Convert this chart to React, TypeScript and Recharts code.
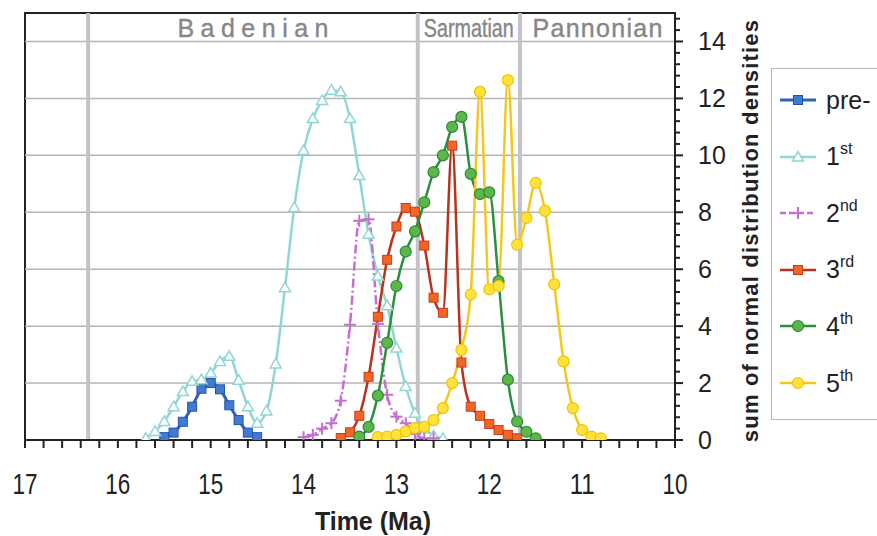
import React from "react"
import { LineChart, Line, XAxis, YAxis, ReferenceLine, ReferenceArea, Legend } from "recharts"

// time grid (Ma), 0.1 Ma steps
const times = [
  15.7, 15.6, 15.5, 15.4, 15.3, 15.2, 15.1, 15.0, 14.9, 14.8, 14.7, 14.6, 14.5, 14.4, 14.3, 14.2, 14.1,
  14.0, 13.9, 13.8, 13.7, 13.6, 13.5, 13.4, 13.3, 13.2, 13.1, 13.0, 12.9, 12.8, 12.7, 12.6, 12.5, 12.4,
  12.3, 12.2, 12.1, 12.0, 11.9, 11.8, 11.7, 11.6, 11.5, 11.4, 11.3, 11.2, 11.1, 11.0, 10.9, 10.8,
]

// each series starts at its own time on the grid above
const preStart = 15.5
const preValues = [0.1, 0.26, 0.64, 1.17, 1.8, 2.0, 1.78, 1.22, 0.7, 0.26, 0.1]
const firstStart = 15.7
const firstValues = [
  0.06, 0.3, 0.65, 1.17, 1.7, 2.06, 2.12, 2.35, 2.76, 2.94, 2.1, 1.17, 0.59, 1.02, 2.67, 5.35, 8.17,
  10.17, 11.29, 11.93, 12.29, 12.23, 11.29, 9.29, 7.23, 5.76, 4.72, 3.23, 1.88, 0.94, 0.4, 0.15, 0.05,
]
const secondStart = 14.0
const secondValues = [0.1, 0.18, 0.4, 0.59, 1.38, 4.05, 7.7, 7.75, 4.08, 1.59, 0.82, 0.59, 0.22, 0.06, 0.06]
const thirdStart = 13.6
const thirdValues = [
  0.07, 0.27, 0.85, 2.22, 4.33, 6.33, 7.5, 8.15, 8.02, 6.83, 5.0, 4.47, 10.34, 2.72, 1.17, 0.85, 0.56,
  0.35, 0.18, 0.06,
]
const fourthStart = 13.4
const fourthValues = [
  0.12, 0.46, 1.56, 3.41, 5.41, 6.62, 7.33, 8.35, 9.41, 10.0, 11.0, 11.35, 9.35, 8.64, 8.7, 5.58, 2.12,
  0.65, 0.29, 0.06,
]
const fifthStart = 13.2
const fifthValues = [
  0.1, 0.12, 0.18, 0.3, 0.42, 0.46, 0.7, 1.12, 2.0, 3.17, 5.11, 12.23, 5.29, 5.41, 12.64, 6.86, 7.8,
  9.03, 8.05, 5.47, 2.76, 1.12, 0.35, 0.12, 0.06,
]

const stageNames = ["Badenian", "Sarmatian", "Pannonian"]
const stageEdges = [16.32, 12.77, 11.67, 10]

const xMajorTicks = [17, 16, 15, 14, 13, 12, 11, 10]
const yMajorTicks = [0, 2, 4, 6, 8, 10, 12, 14]

const FONT = "'Liberation Sans', Arial, sans-serif"

type Marker = "square" | "triangle" | "plus" | "circle"

const series = [
  { key: "pre", label: "pre-", sup: "", start: preStart, values: preValues, line: "#2f62b8", width: 3, marker: "square" as Marker, fill: "#3f7bd0", edge: "#2553a8", dash: undefined },
  { key: "first", label: "1", sup: "st", start: firstStart, values: firstValues, line: "#8fd6d4", width: 2.5, marker: "triangle" as Marker, fill: "#ffffff", edge: "#8fd6d4", dash: undefined },
  { key: "second", label: "2", sup: "nd", start: secondStart, values: secondValues, line: "#c56fcc", width: 2.5, marker: "plus" as Marker, fill: "none", edge: "#c56fcc", dash: "9 3 2 3" },
  { key: "third", label: "3", sup: "rd", start: thirdStart, values: thirdValues, line: "#b8321e", width: 2.5, marker: "square" as Marker, fill: "#f26522", edge: "#c83c1e", dash: undefined },
  { key: "fourth", label: "4", sup: "th", start: fourthStart, values: fourthValues, line: "#2b8f40", width: 2.5, marker: "circle" as Marker, fill: "#5cb648", edge: "#2d8a3c", dash: undefined },
  { key: "fifth", label: "5", sup: "th", start: fifthStart, values: fifthValues, line: "#f6c61a", width: 2.5, marker: "circle" as Marker, fill: "#ffe23c", edge: "#f3c200", dash: undefined },
]

const rows = times.map((t, i) => {
  const row: Record<string, number | null> = { t }
  series.forEach((s) => {
    const v = s.values[i - times.indexOf(s.start)]
    row[s.key] = v === undefined ? null : v
  })
  return row
})

const xTicks: number[] = []
for (let i = 0; i <= 35; i++) xTicks.push(Math.round((10 + i * 0.2) * 10) / 10)
const yTicks: number[] = []
for (let i = 0; i <= 37; i++) yTicks.push(Math.round(i * 0.4 * 10) / 10)

function drawMarker(kind: Marker, cx: number, cy: number, fill: string, edge: string, key?: string) {
  if (kind === "square")
    return <rect key={key} x={cx - 4.5} y={cy - 4.5} width={9} height={9} fill={fill} stroke={edge} strokeWidth={1} />
  if (kind === "triangle")
    return (
      <polygon key={key} points={`${cx},${cy - 5.5} ${cx + 5.5},${cy + 4} ${cx - 5.5},${cy + 4}`} fill={fill} stroke={edge} strokeWidth={1.5} />
    )
  if (kind === "plus")
    return (
      <g key={key}>
        <line x1={cx - 6} y1={cy} x2={cx + 6} y2={cy} stroke={edge} strokeWidth={2} />
        <line x1={cx} y1={cy - 6} x2={cx} y2={cy + 6} stroke={edge} strokeWidth={2} />
      </g>
    )
  return <circle key={key} cx={cx} cy={cy} r={5.5} fill={fill} stroke={edge} strokeWidth={1.2} />
}

const isMajor = (v: number, step: number) => Math.abs(v / step - Math.round(v / step)) < 1e-6

const XTick = (props: any) => {
  const { x, y, payload } = props
  const major = isMajor(payload.value, 1) && xMajorTicks.includes(Math.round(payload.value))
  return (
    <g>
      <line x1={x} y1={y} x2={x} y2={y + 8} stroke="#222" strokeWidth={2} />
      {major && (
        <text x={x} y={y + 43} dy="0.36em" textAnchor="middle" fontFamily={FONT} fontSize={30} fill="#222" textLength={25} lengthAdjust="spacingAndGlyphs">
          {payload.value}
        </text>
      )}
    </g>
  )
}

const YTick = (props: any) => {
  const { x, y, payload } = props
  const major = isMajor(payload.value, 2)
  return (
    <g>
      <line x1={x} y1={y} x2={x + (major ? 8 : 5)} y2={y} stroke="#222" strokeWidth={2} />
      {major && (
        <text x={x + 23} y={y} dy="0.36em" textAnchor="start" fontFamily={FONT} fontSize={25} fill="#222">
          {payload.value}
        </text>
      )}
    </g>
  )
}

const XLabel = (props: any) => {
  const { x, y, width } = props.viewBox
  return (
    <text x={x + width / 2 + 23} y={y + 81} dy="0.36em" textAnchor="middle" fontFamily={FONT} fontWeight="bold" fontSize={25} fill="#222">
      Time (Ma)
    </text>
  )
}

const YLabel = (props: any) => {
  const { x, y, height } = props.viewBox
  const cx = x + 75
  const cy = y + height / 2 + 4
  return (
    <text x={cx} y={cy} dy="0.36em" textAnchor="middle" transform={`rotate(-90 ${cx} ${cy})`} fontFamily={FONT} fontWeight="bold" fontSize={22} letterSpacing={1.2} fill="#222">
      sum of normal distribution densities
    </text>
  )
}

const stageLabel = (name: string, i: number) => (props: any) => {
  const { x, y, width, height } = props.viewBox
  const spacing = i === 0 ? 6.5 : i === 2 ? 1.3 : 0
  const narrow = i === 1 ? { textLength: 90, lengthAdjust: "spacingAndGlyphs" } : {}
  return (
    <text x={x + width / 2 + spacing / 2} y={y + height / 2 + 1} dy="0.36em" textAnchor="middle" fontFamily={FONT} fontSize={25} letterSpacing={spacing} fill="#878787" stroke="#878787" strokeWidth={0.4} {...narrow}>
      {name}
    </text>
  )
}

const LegendBox = () => (
  <div style={{ width: 106, height: 352, boxSizing: "border-box", border: "1.5px solid #b8b8b8", borderRight: "none", background: "#fff", position: "relative", fontFamily: FONT, fontSize: 25, color: "#222" }}>
    {series.map((s, i) => (
      <div key={s.key} style={{ position: "absolute", left: 6, top: 17 + i * 56.6, height: 28, display: "flex", alignItems: "center", whiteSpace: "nowrap" }}>
        <svg width={40} height={20}>
          <line x1={2} y1={10} x2={38} y2={10} stroke={s.line} strokeWidth={s.width} strokeDasharray={s.dash ? "6 3" : undefined} />
          {drawMarker(s.marker, 20, 10, s.fill, s.edge)}
        </svg>
        <span style={{ marginLeft: 8 }}>
          {s.label}
          {s.sup && <span style={{ fontSize: 16, position: "relative", top: -11 }}>{s.sup}</span>}
        </span>
      </div>
    ))}
  </div>
)

export default function App() {
  return (
    <div style={{ position: "absolute", left: 0, top: 0, width: 877, height: 536, background: "#fff" }}>
      <LineChart width={877} height={536} data={rows} margin={{ top: 13, right: 0, bottom: 0, left: 25 }}>
        <XAxis
          type="number"
          dataKey="t"
          domain={[10, 17]}
          reversed
          allowDataOverflow
          ticks={xTicks}
          interval={0}
          tickSize={0}
          tickMargin={0}
          tickLine={false}
          tick={XTick}
          axisLine={{ stroke: "#222", strokeWidth: 2 }}
          height={96}
          label={{ content: XLabel }}
        />
        <YAxis
          orientation="right"
          domain={[0, 15]}
          allowDataOverflow
          ticks={yTicks}
          interval={0}
          tickSize={0}
          tickMargin={0}
          tickLine={false}
          tick={YTick}
          axisLine={{ stroke: "#222", strokeWidth: 2 }}
          width={96}
          label={{ content: YLabel }}
        />
        {yMajorTicks.slice(1).map((v) => (
          <ReferenceLine key={`g${v}`} y={v} stroke="#b5b5b5" strokeWidth={1.5} />
        ))}
        {stageEdges.slice(0, 3).map((e) => (
          <ReferenceLine key={`s${e}`} x={e} stroke="#c2c2c8" strokeWidth={4} />
        ))}
        {stageNames.map((n, i) => (
          <ReferenceArea key={n} x1={stageEdges[i]} x2={stageEdges[i + 1]} y1={14} y2={15} fill="none" stroke="none" label={{ content: stageLabel(n, i) }} />
        ))}
        <ReferenceArea x1={10} x2={17} y1={0} y2={15} fill="none" stroke="#222" strokeWidth={2} />
        {series.map((s) => (
          <Line
            key={s.key}
            dataKey={s.key}
            type="monotone"
            stroke={s.line}
            strokeWidth={s.width}
            strokeDasharray={s.dash}
            isAnimationActive={false}
            activeDot={false}
            dot={(p: any) => {
              if (p.cx == null || p.cy == null || p.value == null) return <g key={`${s.key}-${p.index}`} />
              return drawMarker(s.marker, p.cx, p.cy, s.fill, s.edge, `${s.key}-${p.index}`)
            }}
          />
        ))}
        <Legend layout="vertical" align="right" verticalAlign="top" wrapperStyle={{ top: 68, right: 0 }} content={LegendBox} />
      </LineChart>
    </div>
  )
}
